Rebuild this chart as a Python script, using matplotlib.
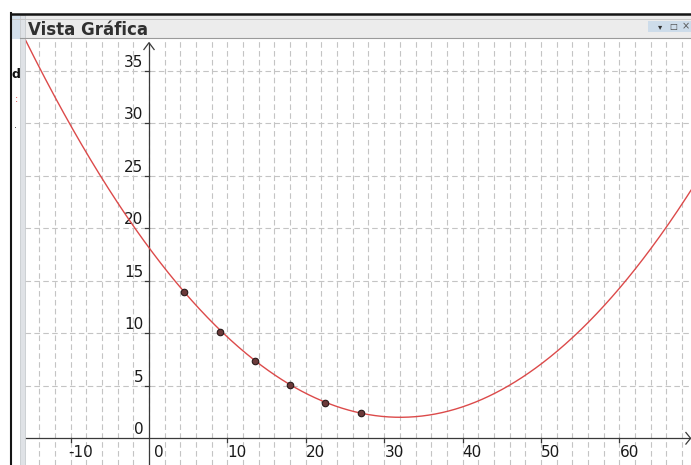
import matplotlib
matplotlib.use('Agg')
import matplotlib.pyplot as plt
import numpy as np
from matplotlib.patches import Rectangle
from matplotlib.lines import Line2D

# ---- data ----
point_x = [4.5, 9, 13.5, 18, 22.5, 27]
point_y = [13.9, 10.1, 7.35, 5.1, 3.4, 2.4]
curve_coef = [0.01572, -1.0077, 18.15]   # a*x^2 + b*x + c (fitted curve shown)
x_ticks = [-10, 0, 10, 20, 30, 40, 50, 60]
y_ticks = [0, 5, 10, 15, 20, 25, 30, 35]
x_tick_labels = ['-10', '0', '10', '20', '30', '40', '50', '60']
y_tick_labels = ['0', '5', '10', '15', '20', '25', '30', '35']
title = 'Vista Gráfica'

W, H = 691, 465
fig = plt.figure(figsize=(W / 100, H / 100), dpi=100)
fig.patch.set_facecolor('white')

def fx(px):
    return px / W

def fy(py):
    return 1 - py / H

# pixel scale of the view
X0, SX = 149.0, 7.839
Y0, SY = 438.3, 10.5
top_px = 39
xmin, xmax = (25 - X0) / SX, (W - X0) / SX
ymin, ymax = (Y0 - H) / SY, (Y0 - top_px) / SY

ax = fig.add_axes([fx(25), 0, fx(W) - fx(25), fy(top_px)])
ax.set_xlim(xmin, xmax)
ax.set_ylim(ymin, ymax)
ax.set_axis_off()
ax.add_patch(Rectangle((xmin, ymin), xmax - xmin, ymax - ymin, color='white', zorder=0))

grid_kw = dict(color='#c4c4c4', lw=0.8, ls=(0, (5, 3)), zorder=1)
for gx in np.arange(-14, 70, 2):
    ax.axvline(gx, **grid_kw)
for gy in range(5, 40, 5):
    ax.axhline(gy, **grid_kw)

axis_col = '#3a3a3a'
ax.plot([xmin, xmax], [0, 0], color=axis_col, lw=0.9, zorder=3, solid_capstyle='butt')
ax.plot([0, 0], [ymin, ymax - 0.35], color=axis_col, lw=0.9, zorder=3, solid_capstyle='butt')
# arrow heads
ah_x, ah_y = 0.65, 0.65
yt = ymax - 0.35
ax.plot([-ah_x, 0, ah_x], [yt - ah_y, yt, yt - ah_y], color=axis_col, lw=0.9, zorder=3)
xt = xmax - 0.05
ax.plot([xt - 0.6, xt, xt - 0.6], [0.55, 0, -0.55], color=axis_col, lw=0.9, zorder=3, clip_on=False)

# tick marks
tick_dx = 4 / SX
tick_dy = 4 / SY
for t in x_ticks:
    if t != 0:
        ax.plot([t, t], [0, -tick_dy], color=axis_col, lw=0.9, zorder=3)
for t in y_ticks:
    if t != 0:
        ax.plot([-tick_dx, 0], [t, t], color=axis_col, lw=0.9, zorder=3)

# tick labels
lab_kw = dict(fontsize=11, color='#1a1a1a', zorder=4)
for t, s in zip(x_ticks, x_tick_labels):
    if t == 0:
        xpos = 0.62
    elif t < 0:
        xpos = t - 0.35
    else:
        xpos = t + 0.02
    ax.text(xpos, -1.32, s, ha='left', va='center', **lab_kw)
for t, s in zip(y_ticks, y_tick_labels):
    ax.text(-0.7, t + 0.12, s, ha='right', va='bottom', **lab_kw)

# curve
xs = np.linspace(xmin, xmax, 600)
ax.plot(xs, np.polyval(curve_coef, xs), color='#dc4a4a', lw=1.0, zorder=5)

# points
ax.scatter(point_x, point_y, s=22, facecolor='#6b3a3a', edgecolor='#2a1a1a', linewidths=0.8, zorder=6)

# ---- window chrome ----
def frect(x0, y0, x1, y1, **kw):
    fig.patches.append(Rectangle((fx(x0), fy(y1)), fx(x1) - fx(x0), fy(y0) - fy(y1),
                                 transform=fig.transFigure, **kw))

# title bar
frect(11, 15, W, 39, facecolor='#ececec', edgecolor='none', zorder=2)
frect(11, 15, 20, 39, facecolor='#d3e0ec', edgecolor='none', zorder=2)
frect(648, 21, W, 32, facecolor='#cddcea', edgecolor='none', zorder=2)
fig.add_artist(Line2D([fx(11), fx(W)], [fy(14), fy(14)], color='#151515', lw=1.8, zorder=3))
fig.add_artist(Line2D([fx(11), fx(W)], [fy(19), fy(19)], color='#c8c8c8', lw=0.7, zorder=3))
fig.add_artist(Line2D([fx(20), fx(W)], [fy(38.5), fy(38.5)], color='#9a9a9a', lw=0.8, zorder=3))
# left border and splitter strip
fig.add_artist(Line2D([fx(11), fx(11)], [fy(13), fy(H)], color='#151515', lw=1.5, zorder=3))
frect(20, 15, 25, H, facecolor='#dfe2e6', edgecolor='#c0c4c8', lw=0.5, zorder=2)

fig.text(fx(27.5), fy(35), title, fontsize=12, fontweight='bold', color='#303030',
         ha='left', va='baseline')
fig.text(fx(660), fy(26.5), '▾', fontsize=6, color='#333333', ha='center', va='center')
fig.text(fx(673), fy(26.5), '□', fontsize=6, color='#444444', ha='center', va='center')
fig.text(fx(686), fy(26.5), '×', fontsize=7, color='#555555', ha='center', va='center')

# remnants of neighbouring panel
fig.text(fx(11.5), fy(78), 'd', fontsize=9, fontweight='bold', color='#111111', ha='left', va='baseline')
fig.text(fx(15), fy(102), ':', fontsize=7, color='#e04040', ha='left', va='baseline')
fig.text(fx(14), fy(128), '.', fontsize=7, color='#333333', ha='left', va='baseline')

fig.savefig('out.png', dpi=100)
